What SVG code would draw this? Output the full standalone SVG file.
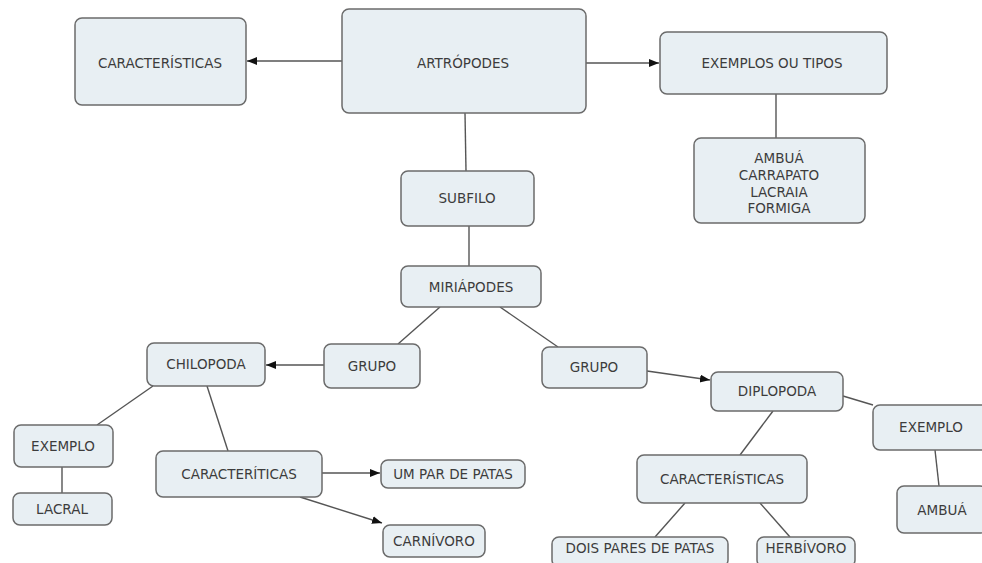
<svg xmlns="http://www.w3.org/2000/svg" width="982" height="563" viewBox="0 0 982 563">
  <style>
    .box { fill: #e8eff3; stroke: #6b6b6b; stroke-width: 1.5; }
    .lbl { font-family: "DejaVu Sans", Verdana, sans-serif; font-size: 13.5px; fill: #3c3c3c; text-anchor: middle; }
    .edge { stroke: #555; stroke-width: 1.4; fill: none; }
    .arrow { marker-end: url(#head); }
  </style>
  <defs>
    <marker id="head" markerWidth="11" markerHeight="9" refX="10" refY="4" orient="auto" markerUnits="userSpaceOnUse">
      <path d="M0,0 L10,4 L0,8 Z" fill="#111"/>
    </marker>
  </defs>
  <rect width="982" height="563" fill="#ffffff"/>

  <!-- connectors -->
  <g id="connectors">
    <line class="edge arrow" x1="342" y1="61" x2="247" y2="61"/>
    <line class="edge arrow" x1="586" y1="63" x2="659" y2="63"/>
    <line class="edge" x1="776" y1="94" x2="776" y2="138"/>
    <line class="edge" x1="465" y1="113" x2="466" y2="171"/>
    <line class="edge" x1="469" y1="226" x2="469" y2="266"/>
    <line class="edge" x1="440" y1="307" x2="398" y2="344"/>
    <line class="edge" x1="500" y1="307" x2="558" y2="347"/>
    <line class="edge arrow" x1="324" y1="365" x2="266" y2="365"/>
    <line class="edge arrow" x1="647" y1="371" x2="710" y2="380"/>
    <line class="edge" x1="153" y1="386" x2="97" y2="425"/>
    <line class="edge" x1="62" y1="467" x2="62" y2="493"/>
    <line class="edge" x1="207" y1="386" x2="228" y2="451"/>
    <line class="edge arrow" x1="322" y1="473" x2="380" y2="473"/>
    <line class="edge arrow" x1="300" y1="497" x2="382" y2="523"/>
    <line class="edge" x1="773" y1="411" x2="740" y2="455"/>
    <line class="edge" x1="843" y1="396" x2="873" y2="405"/>
    <line class="edge" x1="685" y1="503" x2="655" y2="537"/>
    <line class="edge" x1="760" y1="503" x2="790" y2="537"/>
    <line class="edge" x1="935" y1="450" x2="939" y2="486"/>
  </g>

  <!-- nodes -->
  <g id="n-caracteristicas">
    <rect class="box" x="75" y="18" width="171" height="87" rx="7"/>
    <text class="lbl" x="160" y="68">CARACTERÍSTICAS</text>
  </g>
  <g id="n-artropodes">
    <rect class="box" x="342" y="9" width="244" height="104" rx="7"/>
    <text class="lbl" x="463" y="68">ARTRÓPODES</text>
  </g>
  <g id="n-exemplos">
    <rect class="box" x="660" y="32" width="227" height="62" rx="7"/>
    <text class="lbl" x="772" y="68">EXEMPLOS OU TIPOS</text>
  </g>
  <g id="n-lista">
    <rect class="box" x="694" y="138" width="171" height="85" rx="7"/>
    <text class="lbl" x="779" y="163">AMBUÁ</text>
    <text class="lbl" x="779" y="180">CARRAPATO</text>
    <text class="lbl" x="779" y="197">LACRAIA</text>
    <text class="lbl" x="779" y="213">FORMIGA</text>
  </g>
  <g id="n-subfilo">
    <rect class="box" x="401" y="171" width="133" height="55" rx="7"/>
    <text class="lbl" x="467" y="203">SUBFILO</text>
  </g>
  <g id="n-miriapodes">
    <rect class="box" x="401" y="266" width="140" height="41" rx="7"/>
    <text class="lbl" x="471" y="292">MIRIÁPODES</text>
  </g>
  <g id="n-grupo-chilopoda">
    <rect class="box" x="324" y="344" width="96" height="44" rx="7"/>
    <text class="lbl" x="372" y="371">GRUPO</text>
  </g>
  <g id="n-grupo-diplopoda">
    <rect class="box" x="542" y="347" width="105" height="41" rx="7"/>
    <text class="lbl" x="594" y="372">GRUPO</text>
  </g>
  <g id="n-chilopoda">
    <rect class="box" x="147" y="343" width="118" height="43" rx="7"/>
    <text class="lbl" x="206" y="369">CHILOPODA</text>
  </g>
  <g id="n-diplopoda">
    <rect class="box" x="711" y="372" width="132" height="39" rx="7"/>
    <text class="lbl" x="777" y="396">DIPLOPODA</text>
  </g>
  <g id="n-exemplo-chilopoda">
    <rect class="box" x="14" y="425" width="99" height="42" rx="7"/>
    <text class="lbl" x="63" y="451">EXEMPLO</text>
  </g>
  <g id="n-lacral">
    <rect class="box" x="13" y="493" width="99" height="32" rx="7"/>
    <text class="lbl" x="62" y="514">LACRAL</text>
  </g>
  <g id="n-caracteriticas">
    <rect class="box" x="156" y="451" width="166" height="46" rx="7"/>
    <text class="lbl" x="239" y="479">CARACTERÍTICAS</text>
  </g>
  <g id="n-um-par">
    <rect class="box" x="381" y="460" width="144" height="28" rx="7"/>
    <text class="lbl" x="453" y="479">UM PAR DE PATAS</text>
  </g>
  <g id="n-carnivoro">
    <rect class="box" x="383" y="525" width="102" height="32" rx="7"/>
    <text class="lbl" x="434" y="546">CARNÍVORO</text>
  </g>
  <g id="n-caracteristicas-diplopoda">
    <rect class="box" x="637" y="455" width="170" height="48" rx="7"/>
    <text class="lbl" x="722" y="484">CARACTERÍSTICAS</text>
  </g>
  <g id="n-dois-pares">
    <rect class="box" x="552" y="537" width="176" height="30" rx="7"/>
    <text class="lbl" x="640" y="553">DOIS PARES DE PATAS</text>
  </g>
  <g id="n-herbivoro">
    <rect class="box" x="757" y="537" width="98" height="30" rx="7"/>
    <text class="lbl" x="806" y="553">HERBÍVORO</text>
  </g>
  <g id="n-exemplo-diplopoda">
    <rect class="box" x="873" y="405" width="117" height="45" rx="7"/>
    <text class="lbl" x="931" y="432">EXEMPLO</text>
  </g>
  <g id="n-ambua">
    <rect class="box" x="897" y="486" width="90" height="47" rx="7"/>
    <text class="lbl" x="942" y="515">AMBUÁ</text>
  </g>
</svg>
